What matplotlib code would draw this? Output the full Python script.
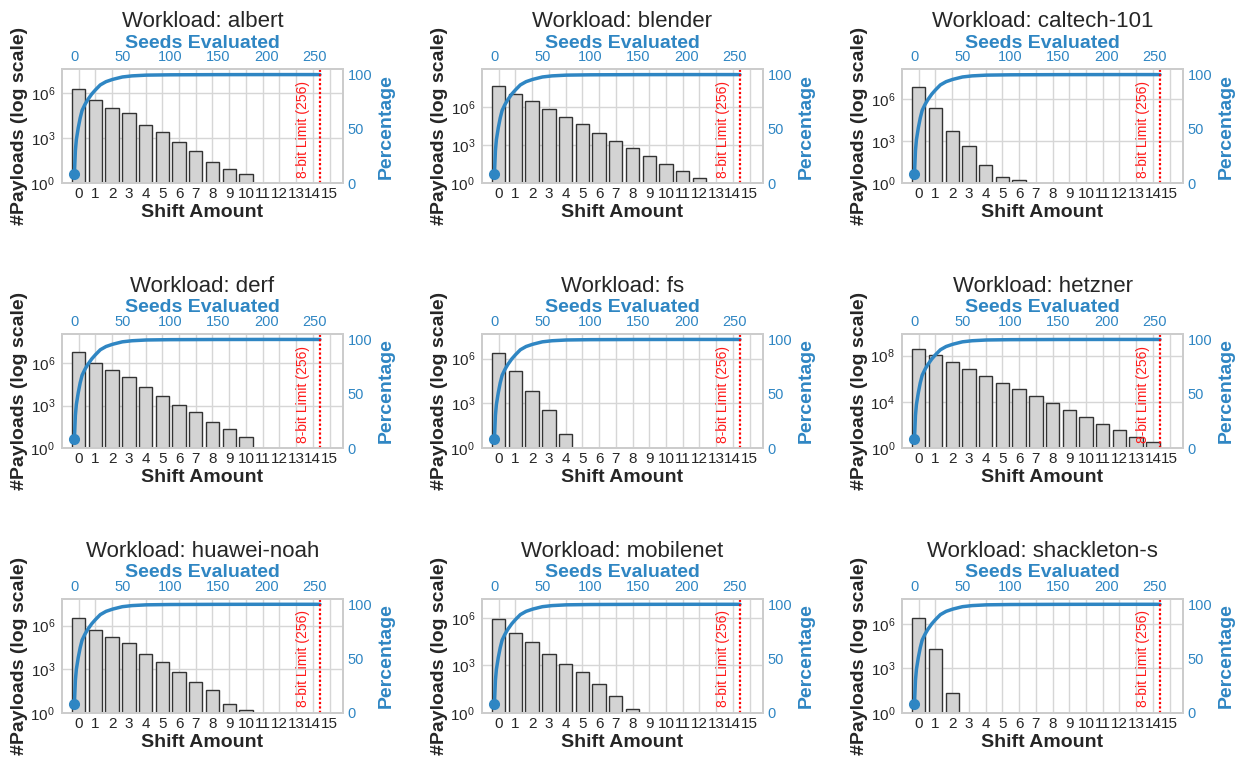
import matplotlib
matplotlib.use('Agg')
import matplotlib.pyplot as plt
import numpy as np

plt.style.use('seaborn-v0_8-whitegrid')
plt.rcParams['font.family'] = ['Liberation Sans', 'DejaVu Sans']

# shift amounts on the bottom axis
shifts = list(range(16))

workloads = ['albert', 'blender', 'caltech-101',
             'derf', 'fs', 'hetzner',
             'huawei-noah', 'mobilenet', 'shackleton-s']

# number of payloads per shift amount (0 = no bar)
payloads = {
    'albert':       [1.95e6, 3.2e5, 1.05e5, 4.9e4, 7.8e3, 2.4e3, 540, 135, 24, 9, 4, 0, 0, 0, 0, 0],
    'blender':      [4.6e7, 1.07e7, 2.95e6, 7.4e5, 1.74e5, 4.6e4, 9.3e3, 2.2e3, 620, 135, 35, 9, 2.6, 0, 0, 0],
    'caltech-101':  [7.1e6, 2.45e5, 5.2e3, 440, 19, 2.8, 1.7, 0, 0, 0, 0, 0, 0, 0, 0, 0],
    'derf':         [6.0e6, 1.12e6, 3.2e5, 1.05e5, 2.0e4, 4.9e3, 1150, 330, 71, 24, 5.6, 0, 0, 0, 0, 0],
    'fs':           [2.2e6, 1.38e5, 7.1e3, 360, 8.7, 0, 0, 0, 0, 0, 0, 0, 0, 0, 0, 0],
    'hetzner':      [3.7e8, 1.12e8, 2.6e7, 7.1e6, 1.66e6, 4.2e5, 1.17e5, 3.0e4, 7.9e3, 2.1e3, 490, 132, 38, 8.3, 3.1, 0],
    'huawei-noah':  [3.4e6, 5.2e5, 1.74e5, 6.3e4, 1.05e4, 3.3e3, 680, 138, 35, 4.4, 1.7, 0, 0, 0, 0, 0],
    'mobilenet':    [8.1e5, 1.2e5, 3.1e4, 5.6e3, 1.29e3, 410, 66, 11.5, 1.8, 0, 0, 0, 0, 0, 0, 0],
    'shackleton-s': [2.5e6, 2.2e4, 23, 0, 0, 0, 0, 0, 0, 0, 0, 0, 0, 0, 0, 0],
}

# decades shown as y tick labels
ytick_exps = {
    'albert': [0, 3, 6], 'blender': [0, 3, 6], 'caltech-101': [0, 3, 6],
    'derf': [0, 3, 6], 'fs': [0, 3, 6], 'hetzner': [0, 4, 8],
    'huawei-noah': [0, 3, 6], 'mobilenet': [0, 3, 6], 'shackleton-s': [0, 3, 6],
}

# cumulative coverage curve (seeds evaluated -> percentage)
seeds = [0, 1, 2, 4, 6, 8, 11, 14, 18, 22, 27, 33, 40, 50, 60, 75, 100, 150, 200, 256]
coverage = [8.6, 30, 40, 51, 60, 67, 72.5, 77, 82, 86, 90.5, 93.5, 95.6, 97.8,
            98.8, 99.5, 99.8, 99.95, 100, 100]
seed_ticks = [0, 50, 100, 150, 200, 250]
limit = 256

blue = '#2f86c3'

fig, axes = plt.subplots(3, 3, figsize=(12.39, 7.6), dpi=100)
fig.subplots_adjust(left=0.050, right=0.9548, bottom=0.062, top=0.909,
                    wspace=0.495, hspace=1.323)

for ax, name in zip(axes.flat, workloads):
    vals = payloads[name]
    ax.set_yscale('log')
    ax.bar(shifts, vals, width=0.8, color='#d3d3d3', edgecolor='#333333', linewidth=1)
    ax.set_ylim(1, max(vals) * 20)
    ax.set_yticks([10.0 ** e for e in ytick_exps[name]])
    ax.minorticks_off()
    ax.set_xlim(-1, 15.8)
    ax.set_xticks(shifts)
    ax.tick_params(axis='x', labelsize=11, pad=3, labelcolor='#262626')
    ax.tick_params(axis='y', labelsize=11, pad=5, labelcolor='#262626')
    ax.set_xlabel('Shift Amount', fontsize=14, fontweight='bold', labelpad=2)
    ax.set_ylabel('#Payloads (log scale)', fontsize=14, fontweight='bold', labelpad=2)
    ax.grid(True, color='#d6d6d6', linewidth=1)

    ax_r = ax.twinx()
    ax_t = ax_r.twiny()
    ax_r.set_ylim(0, 105)
    ax_r.set_yticks([0, 50, 100])
    ax_r.grid(False)
    ax_t.grid(False)
    ax_r.tick_params(axis='y', labelsize=10.5, pad=3.5, labelcolor=blue)
    ax_r.set_ylabel('Percentage', fontsize=14, fontweight='bold', color=blue)

    ax_t.plot(seeds, coverage, color=blue, linewidth=2.5,
              marker='o', markevery=[0], markersize=7)
    ax_t.axvline(limit, color='red', linestyle=(0, (1, 1)), linewidth=1.6)
    ax_t.text(limit - 10, 5, '8-bit Limit (256)', color='#ff1a1a', fontsize=10,
              rotation=90, ha='right', va='bottom')
    ax_t.set_xlim(-13, 280)
    ax_t.set_xticks(seed_ticks)
    ax_t.tick_params(axis='x', labelsize=10.5, pad=3.5, labelcolor=blue)
    ax_t.set_xlabel('Seeds Evaluated', fontsize=14, fontweight='bold', color=blue, labelpad=2)
    for a in (ax, ax_r, ax_t):
        for s in a.spines.values():
            s.set_color('#cccccc')
            s.set_linewidth(1.3)

    ax.set_title('Workload: ' + name, fontsize=16, color='#262626', y=1.37, pad=0)

fig.savefig('out.png', dpi=100)
